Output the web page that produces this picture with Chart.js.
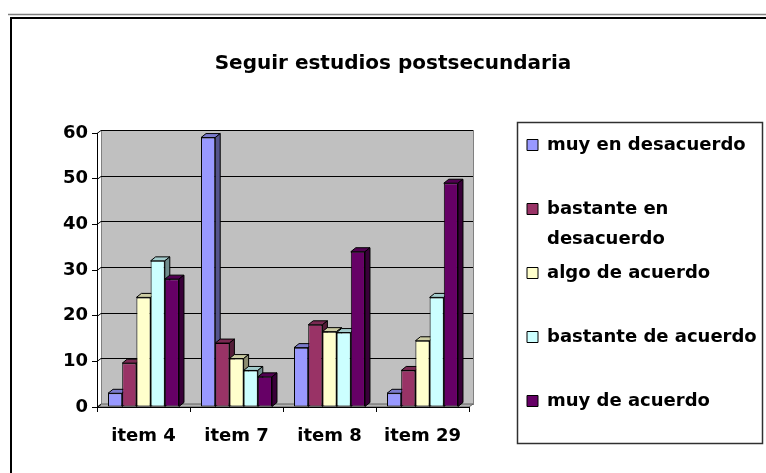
<!DOCTYPE html>
<html>
<head>
<meta charset="utf-8">
<script src="https://cdn.jsdelivr.net/npm/chart.js@4"></script>
<style>
  body { margin: 0; background: #fff; }
  canvas { display: block; }
</style>
</head>
<body>
<canvas id="chart" width="766" height="473"></canvas>
<script>
const categories = ["item 4", "item 7", "item 8", "item 29"];
const seriesNames = ["muy en desacuerdo", "bastante en desacuerdo", "algo de acuerdo", "bastante de acuerdo", "muy de acuerdo"];
const muyEnDesacuerdo = [3, 59, 13, 3];
const bastanteEnDesacuerdo = [9.6, 14, 18, 8];
const algoDeAcuerdo = [24, 10.6, 16.5, 14.5];
const bastanteDeAcuerdo = [32, 8, 16.3, 24];
const muyDeAcuerdo = [28, 6.6, 34, 49];
const yTicks = [0, 10, 20, 30, 40, 50, 60];

const colors = ["#9999FF", "#993366", "#FFFFCC", "#CCFFFF", "#660066"];
const values = [muyEnDesacuerdo, bastanteEnDesacuerdo, algoDeAcuerdo, bastanteDeAcuerdo, muyDeAcuerdo];

// legend text split like in the original (every entry gets two lines so spacing stays even)
const legendLines = {
  "bastante en desacuerdo": ["bastante en", "desacuerdo"]
};

const DX = 5, DY = 4;      // bar depth
const WX = 4, WY = 3;      // wall depth

function shade(hex, f) {
  const n = parseInt(hex.slice(1), 16);
  const r = Math.round(((n >> 16) & 255) * f);
  const g = Math.round(((n >> 8) & 255) * f);
  const b = Math.round((n & 255) * f);
  return `rgb(${r},${g},${b})`;
}

// frame, back wall, floor and gridlines
const backdrop = {
  id: "backdrop",
  beforeDraw(chart) {
    const ctx = chart.ctx;
    const ca = chart.chartArea;
    const y = chart.scales.y;
    ctx.save();
    ctx.fillStyle = "#fff";
    ctx.fillRect(0, 0, chart.width, chart.height);

    ctx.strokeStyle = "#808080";
    ctx.lineWidth = 1.5;
    ctx.beginPath();
    ctx.moveTo(8, 14.5);
    ctx.lineTo(chart.width, 14.5);
    ctx.stroke();
    ctx.strokeStyle = "#000";
    ctx.lineWidth = 2;
    ctx.beginPath();
    ctx.moveTo(chart.width, 18);
    ctx.lineTo(11, 18);
    ctx.lineTo(11, chart.height);
    ctx.stroke();

    // wall
    ctx.fillStyle = "#c0c0c0";
    ctx.fillRect(ca.left + WX, ca.top - WY, ca.width, ca.height);
    ctx.strokeStyle = "#808080";
    ctx.lineWidth = 1;
    ctx.strokeRect(ca.left + WX + 0.5, ca.top - WY + 0.5, ca.width, ca.height);

    // floor
    ctx.beginPath();
    ctx.moveTo(ca.left, ca.bottom);
    ctx.lineTo(ca.left + WX, ca.bottom - WY);
    ctx.lineTo(ca.right + WX, ca.bottom - WY);
    ctx.lineTo(ca.right, ca.bottom);
    ctx.closePath();
    ctx.fillStyle = "#b0b0b0";
    ctx.fill();
    ctx.strokeStyle = "#606060";
    ctx.stroke();

    // gridlines on the wall
    ctx.strokeStyle = "#000";
    ctx.lineWidth = 1;
    yTicks.forEach(v => {
      const py = Math.round(y.getPixelForValue(v)) + 0.5;
      ctx.beginPath();
      ctx.moveTo(ca.left, py);
      ctx.lineTo(ca.left + WX, py - WY);
      if (v > 0) ctx.lineTo(ca.right + WX, py - WY);
      ctx.stroke();
    });
    ctx.restore();
  },
  afterDraw(chart) {
    const ctx = chart.ctx;
    ctx.save();
    ctx.strokeStyle = "#303030";
    ctx.lineWidth = 1.5;
    ctx.strokeRect(517.5, 122.5, 245, 321);
    ctx.restore();
  }
};

// draws the bars left to right with top and side faces
const columns3d = {
  id: "columns3d",
  beforeDatasetsDraw(chart) {
    const ctx = chart.ctx;
    const metas = chart.getSortedVisibleDatasetMetas();
    categories.forEach((c, j) => {
      metas.forEach(meta => {
        const bar = meta.data[j];
        const col = meta.controller.getDataset().backgroundColor;
        const l = bar.x - bar.width / 2, r = bar.x + bar.width / 2;
        const t = bar.y, b = bar.base;
        ctx.save();
        ctx.strokeStyle = "#000";
        ctx.lineWidth = 1;
        ctx.beginPath();
        ctx.moveTo(l, t);
        ctx.lineTo(l + DX, t - DY);
        ctx.lineTo(r + DX, t - DY);
        ctx.lineTo(r, t);
        ctx.closePath();
        ctx.fillStyle = shade(col, 0.8);
        ctx.fill();
        ctx.stroke();
        ctx.beginPath();
        ctx.moveTo(r, t);
        ctx.lineTo(r + DX, t - DY);
        ctx.lineTo(r + DX, b - DY);
        ctx.lineTo(r, b);
        ctx.closePath();
        ctx.fillStyle = shade(col, 0.55);
        ctx.fill();
        ctx.stroke();
        ctx.restore();
        bar.draw(ctx);
      });
    });
    return false;
  }
};

// fixed legend box to the right of the plot
const legendSpot = {
  id: "legendSpot",
  beforeLayout(chart) {
    const lg = chart.legend;
    if (!lg || lg._fixedFit) return;
    const fit = lg.fit.bind(lg);
    lg.fit = function () {
      fit();
      this.width = 294;
    };
    lg._fixedFit = true;
  },
  afterLayout(chart) {
    const lg = chart.legend;
    lg.left = 523;
    lg.right = 763;
    lg.top = 132;
    lg.bottom = 444;
    lg.width = lg.right - lg.left;
    lg.height = lg.bottom - lg.top;
  }
};

Chart.defaults.font.family = "'DejaVu Sans', sans-serif";
Chart.defaults.font.weight = "bold";
Chart.defaults.color = "#000";

new Chart(document.getElementById("chart"), {
  type: "bar",
  data: {
    labels: categories,
    datasets: seriesNames.map((name, i) => ({
      label: name,
      data: values[i],
      backgroundColor: colors[i],
      borderColor: "#000",
      borderWidth: 1,
      borderSkipped: false,
      categoryPercentage: 0.763,
      barPercentage: 1
    }))
  },
  options: {
    responsive: false,
    devicePixelRatio: 1,
    animation: false,
    layout: { padding: { top: 20, left: 23, right: 3, bottom: 0 } },
    plugins: {
      title: {
        display: true,
        text: "Seguir estudios postsecundaria",
        font: { size: 20, weight: "bold" },
        padding: { top: 32, bottom: 57 }
      },
      legend: {
        position: "right",
        align: "start",
        labels: {
          boxWidth: 11,
          boxHeight: 11,
          padding: 4,
          font: { size: 18, weight: "bold", lineHeight: "30px" },
          generateLabels(chart) {
            const items = Chart.defaults.plugins.legend.labels.generateLabels(chart);
            items.forEach(it => {
              it.text = legendLines[it.text] || [it.text, ""];
            });
            return items;
          }
        }
      },
      tooltip: { enabled: false }
    },
    scales: {
      x: {
        grid: { drawOnChartArea: false, drawTicks: true, tickLength: 5, color: "#000" },
        border: { display: true, color: "#000", width: 1 },
        ticks: { padding: 14, font: { size: 18, weight: "bold" } },
        afterFit(scale) { scale.height = 66; }
      },
      y: {
        min: 0,
        max: 60,
        grid: { drawOnChartArea: false, drawTicks: true, tickLength: 5, color: "#000" },
        border: { display: true, color: "#000", width: 1 },
        ticks: { stepSize: 10, padding: 4, font: { size: 18, weight: "bold" } },
        afterFit(scale) { scale.width = 74; }
      }
    }
  },
  plugins: [backdrop, columns3d, legendSpot]
});
</script>
</body>
</html>
